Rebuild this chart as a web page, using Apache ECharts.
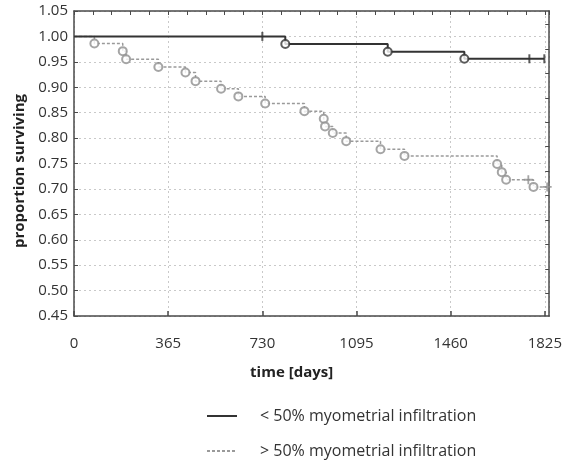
<!DOCTYPE html>
<html>
<head>
<meta charset="utf-8">
<script src="https://cdn.jsdelivr.net/npm/echarts@6/dist/echarts.min.js"></script>
<style>
html,body{margin:0;padding:0;background:#fff;}
#chart{width:565px;height:465px;}
</style>
</head>
<body>
<div id="chart"></div>
<script>
// ---- data ----
const seriesNames = ['< 50% myometrial infiltration', '> 50% myometrial infiltration'];

const lowEventDays = [819, 1216, 1513];
const lowEventSurv = [0.985, 0.970, 0.956];
const lowCensorDays = [730, 1765, 1823];

const highEventDays = [79, 189, 202, 327, 432, 471, 570, 637, 741, 893, 968, 973, 1003, 1055, 1188, 1281, 1640, 1658, 1675, 1781];
const highEventSurv = [0.986, 0.971, 0.955, 0.940, 0.929, 0.912, 0.897, 0.882, 0.868, 0.853, 0.838, 0.823, 0.810, 0.794, 0.778, 0.765, 0.749, 0.733, 0.718, 0.704];
const highCensorDays = [1761, 1834];

const xTickLabels = [0, 365, 730, 1095, 1460, 1825];
const yTickLabels = [0.45, 0.50, 0.55, 0.60, 0.65, 0.70, 0.75, 0.80, 0.85, 0.90, 0.95, 1.00, 1.05];
const rightTickValues = [1.0236, 0.9755, 0.9274, 0.8793, 0.8312, 0.7831, 0.7350, 0.6869, 0.6388, 0.5907, 0.5426, 0.4945];

// ---- helpers ----
function survAt(days, surv, t) {
  let s = 1;
  for (let i = 0; i < days.length; i++) if (days[i] <= t) s = surv[i];
  return s;
}
function kmLine(days, surv, censor) {
  const pts = [[0, 1]];
  for (let i = 0; i < days.length; i++) pts.push([days[i], surv[i]]);
  const end = Math.max(days[days.length - 1], censor[censor.length - 1]);
  pts.push([end, survAt(days, surv, end)]);
  return pts;
}
function events(days, surv) { return days.map((d, i) => [d, surv[i]]); }
function censors(days, surv, cd) { return cd.map(t => [t, survAt(days, surv, t)]); }

const FONT = 'Open Sans';
const dark = '#333333';
const gray = '#8f8f8f';
const axisCol = '#4a4a4a';
const gridLine = { show: true, lineStyle: { color: '#c9c9c9', type: [2, 3], width: 1 } };

const chart = echarts.init(document.getElementById('chart'), null, { renderer: 'canvas' });
chart.setOption({
  animation: false,
  backgroundColor: '#fff',
  textStyle: { fontFamily: FONT },
  grid: { left: 74, right: 14, top: 11, bottom: 149, containLabel: false },
  legend: {
    data: seriesNames,
    orient: 'vertical',
    left: 201,
    top: 403,
    itemWidth: 30,
    itemHeight: 12,
    itemGap: 19,
    itemStyle: { opacity: 0 },
    textStyle: { fontFamily: FONT, fontSize: 16, color: '#333', padding: [0, 0, 0, 18] }
  },
  xAxis: [{
    type: 'value', min: 0, max: 1842, interval: 365, position: 'bottom',
    name: 'time [days]', nameLocation: 'middle', nameGap: 49,
    nameTextStyle: { fontFamily: FONT, fontSize: 15, fontWeight: 'bold', color: '#222', padding: [0, 40, 0, 0] },
    axisLine: { show: true, lineStyle: { color: axisCol, width: 1.5 } },
    axisTick: { show: true, inside: true, length: 5, lineStyle: { color: axisCol, width: 1.5 } },
    axisLabel: { margin: 20, fontFamily: FONT, fontSize: 15, color: '#333', showMaxLabel: false, formatter: v => String(v) },
    splitLine: gridLine
  }, {
    type: 'value', min: 0, max: 1842, interval: 73, position: 'top',
    axisLine: { show: true, onZero: false, lineStyle: { color: axisCol, width: 1.5 } },
    axisTick: { show: true, inside: true, length: 4, lineStyle: { color: axisCol, width: 1 } },
    axisLabel: { show: false },
    splitLine: { show: false }
  }],
  yAxis: [{
    type: 'value', min: 0.45, max: 1.05, interval: 0.05, position: 'left',
    name: 'proportion surviving', nameLocation: 'middle', nameGap: 45,
    nameTextStyle: { fontFamily: FONT, fontSize: 15, fontWeight: 'bold', color: '#222', padding: [0, 15, 0, 0] },
    axisLine: { show: true, lineStyle: { color: axisCol, width: 1.5 } },
    axisTick: { show: true, inside: true, length: 4, lineStyle: { color: axisCol, width: 1 } },
    axisLabel: { margin: 6, fontFamily: FONT, fontSize: 15, color: '#333', formatter: v => v.toFixed(2) },
    splitLine: gridLine
  }, {
    type: 'value', min: 0.45, max: 1.05, position: 'right',
    axisLine: { show: true, onZero: false, lineStyle: { color: axisCol, width: 1.5 } },
    axisTick: { show: true, inside: true, length: 4, customValues: rightTickValues, lineStyle: { color: axisCol, width: 1 } },
    axisLabel: { show: false },
    splitLine: { show: false }
  }],
  series: [
    {
      name: seriesNames[0], type: 'line', step: 'end', symbol: 'none', z: 3,
      data: kmLine(lowEventDays, lowEventSurv, lowCensorDays),
      lineStyle: { color: dark, width: 2 }, itemStyle: { color: dark }
    },
    {
      name: seriesNames[1], type: 'line', step: 'end', symbol: 'none', z: 2,
      data: kmLine(highEventDays, highEventSurv, highCensorDays),
      lineStyle: { color: '#9a9a9a', width: 1.5, type: [3, 2] }, itemStyle: { color: '#9a9a9a' }
    },
    {
      name: 'low events', type: 'scatter', symbol: 'emptyCircle', symbolSize: 8, z: 4,
      data: events(lowEventDays, lowEventSurv),
      itemStyle: { color: dark, borderColor: dark, borderWidth: 2 }
    },
    {
      name: 'high events', type: 'scatter', symbol: 'emptyCircle', symbolSize: 8, z: 4,
      data: events(highEventDays, highEventSurv),
      itemStyle: { color: gray, borderColor: gray, borderWidth: 1.8 }
    },
    {
      name: 'low censored', type: 'scatter', symbol: 'rect', symbolSize: [2, 9], z: 4,
      data: censors(lowEventDays, lowEventSurv, lowCensorDays),
      itemStyle: { color: dark }
    },
    {
      name: 'high censored', type: 'scatter', symbol: 'path://M4,0H6V10H4Z M0,4H10V6H0Z', symbolSize: 9, z: 4,
      data: censors(highEventDays, highEventSurv, highCensorDays),
      itemStyle: { color: gray }
    }
  ]
});
</script>
</body>
</html>
